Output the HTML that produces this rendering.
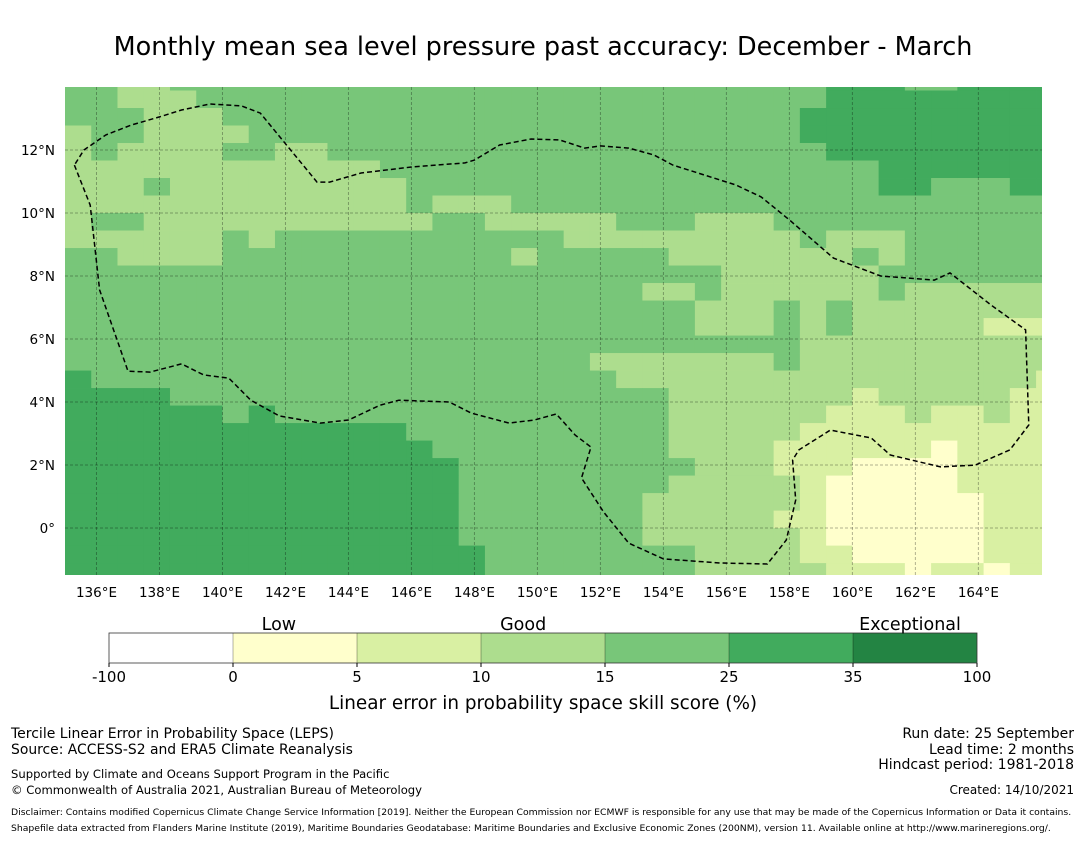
<!DOCTYPE html>
<html><head><meta charset="utf-8"><style>
body{margin:0;background:#fff;}
svg text{font-family:"DejaVu Sans","Liberation Sans",sans-serif;fill:#000;}
</style></head><body>
<svg id="chart" width="1085" height="839" viewBox="0 0 1085 839" xmlns="http://www.w3.org/2000/svg">
<text x="543" y="55" font-size="25.5" text-anchor="middle">Monthly mean sea level pressure past accuracy: December - March</text>
<defs><clipPath id="mapclip"><rect x="65" y="87" width="977" height="488"/></clipPath></defs>
<g id="cells" clip-path="url(#mapclip)"></g>
<g id="grid" clip-path="url(#mapclip)"></g>
<g id="eez" clip-path="url(#mapclip)"></g>
<g id="ticks"></g>
<g id="cbar"></g>
<text x="543" y="709" font-size="18.4" text-anchor="middle">Linear error in probability space skill score (%)</text>
<g font-size="14">
<text x="11" y="738">Tercile Linear Error in Probability Space (LEPS)</text>
<text x="11" y="754" font-size="13.9">Source: ACCESS-S2 and ERA5 Climate Reanalysis</text>
<text x="11" y="778" font-size="11.6">Supported by Climate and Oceans Support Program in the Pacific</text>
<text x="11" y="794" font-size="11.6">© Commonwealth of Australia 2021, Australian Bureau of Meteorology</text>
<text x="11" y="815" font-size="9.25">Disclaimer: Contains modified Copernicus Climate Change Service Information [2019]. Neither the European Commission nor ECMWF is responsible for any use that may be made of the Copernicus Information or Data it contains.</text>
<text x="11" y="831" font-size="9.25">Shapefile data extracted from Flanders Marine Institute (2019), Maritime Boundaries Geodatabase: Maritime Boundaries and Exclusive Economic Zones (200NM), version 11. Available online at http://www.marineregions.org/.</text>
</g>
<g font-size="14" text-anchor="end">
<text x="1074" y="738">Run date: 25 September</text>
<text x="1074" y="754">Lead time: 2 months</text>
<text x="1074" y="769">Hindcast period: 1981-2018</text>
<text x="1074" y="794" font-size="12">Created: 14/10/2021</text>
</g>
</svg>
<script>
// Grid data: rows north->south, each digit a skill class (1:0-5, 2:5-10, 3:10-15, 4:15-25, 5:25-35)
const rowCodes = [
"44334444444444444444444444444555445555",
"44333444444444444444444444444555555555",
"44433344444444444444444444445555555555",
"34433334444444444444444444445555555555",
"34333344334444444444444444444555555555",
"33333333333344444444444444444445555555",
"33343333333334444444444444444445544455",
"33333333333334333444444444444444444444",
"34433333333333443333344433344444444444",
"33333343444444444443333333334333444444",
"44333344444444444344444333333343444444",
"44444444444444444444444443333334444444",
"44444444444444444444443343333334333333",
"44444444444444444444444433343433333333",
"44444444444444444444444433343433333222",
"44444444444444444444444444443333333333",
"44444444444444444444333333343333333333",
"54444444444444444444433333333333333332",
"55554444444444444444444333333323333322",
"55555545444444444444444333333222322322",
"55555555555554444444444333332222222222",
"55555555555555444444444333322222212222",
"55555555555555544444444433322211112222",
"55555555555555544444444333332111112222",
"55555555555555544444443333332111111222",
"55555555555555544444443333322111111222",
"55555555555555544444443333332111111222",
"55555555555555554444444433332211111222",
"55555555555555554444444433333222122122"];
const classValues = [null, 2.5, 7.5, 12.5, 20, 30];
const values = rowCodes.map(r => r.split('').map(d => classValues[+d]));
const cellLon0 = 135, cellDLon = 0.8333, cellLat0 = 14.4444, cellDLat = 0.5556;
const lonTicks = [136,138,140,142,144,146,148,150,152,154,156,158,160,162,164];
const latTicks = [0,2,4,6,8,10,12];
const cbarBounds = [-100,0,5,10,15,25,35,100];
const cbarColors = ["#ffffff","#ffffcc","#d9f0a3","#addd8e","#78c679","#41ab5d","#238443"];
const cbarCategories = [["Low",1.37],["Good",3.34],["Exceptional",6.46]];
const eezLon = [135.3,135.8,136.1,137.0,137.7,138.7,139.4,140.2,140.9,141.8,143.1,144.0,145.0,145.6,147.2,147.9,149.1,149.9,150.6,151.2,151.7,151.4,152.1,152.9,154.0,155.8,157.3,157.9,158.2,158.1,158.3,159.3,160.6,161.2,162.8,163.9,165.0,165.6,165.5,164.4,163.1,162.6,160.9,159.4,158.0,157.1,156.3,155.6,154.3,153.7,152.9,152.0,151.5,150.7,149.8,148.8,148.0,147.7,146.0,144.4,143.4,143.0,141.2,140.6,139.6,138.7,138.0,137.1,136.3,135.6,135.3];
const eezLat = [11.52,10.25,7.56,4.98,4.95,5.21,4.86,4.76,4.06,3.56,3.33,3.43,3.9,4.06,4.0,3.65,3.33,3.43,3.62,2.95,2.57,1.59,0.51,-0.48,-0.98,-1.11,-1.14,-0.38,0.89,2.16,2.48,3.11,2.86,2.32,1.94,2.0,2.48,3.27,6.29,7.08,8.1,7.87,8.0,8.57,9.78,10.51,10.89,11.11,11.52,11.84,12.06,12.13,12.06,12.32,12.35,12.16,11.68,11.59,11.46,11.27,10.98,10.98,13.17,13.4,13.46,13.27,13.05,12.79,12.48,12.0,11.52];

const X0=65, X1=1042, Y0=87, Y1=575, LONMIN=135, LONMAX=166.02, LATMAX=14, LATMIN=-1.49;
const xOf = lon => X0 + (lon-LONMIN)/(LONMAX-LONMIN)*(X1-X0);
const yOf = lat => Y0 + (LATMAX-lat)/(LATMAX-LATMIN)*(Y1-Y0);
const NS="http://www.w3.org/2000/svg";
function mk(tag, attrs, parent){const e=document.createElementNS(NS,tag);for(const k in attrs)e.setAttribute(k,attrs[k]);parent.appendChild(e);return e;}
function colorFor(v){for(let i=0;i<cbarColors.length;i++){if(v<cbarBounds[i+1])return cbarColors[i];}return cbarColors[cbarColors.length-1];}

const cells=document.getElementById('cells');
values.forEach((row,r)=>row.forEach((v,c)=>{
  const lonA=cellLon0+c*cellDLon, latA=cellLat0-r*cellDLat;
  const x=xOf(lonA), y=yOf(latA);
  const el=mk('rect',{x:x,y:y,width:xOf(lonA+cellDLon)-x+0.4,height:yOf(latA-cellDLat)-y+0.4,fill:colorFor(v)},cells);
  
  
}));

const grid=document.getElementById('grid'), ticks=document.getElementById('ticks');
lonTicks.forEach(l=>{
  const x=xOf(l);
  const ln=mk('line',{x1:x,y1:Y0,x2:x,y2:Y1,stroke:'#000','stroke-opacity':0.3,'stroke-width':1,'stroke-dasharray':'3,2'},grid);
  
  
  const t=mk('text',{x:x,y:597,'font-size':13.5,'text-anchor':'middle'},ticks);
  t.textContent=l+'°E';
  
  
});
latTicks.forEach(l=>{
  const y=yOf(l);
  const ln=mk('line',{x1:X0,y1:y,x2:X1,y2:y,stroke:'#000','stroke-opacity':0.3,'stroke-width':1,'stroke-dasharray':'3,2'},grid);
  
  
  const t=mk('text',{x:55,y:y+5,'font-size':13.5,'text-anchor':'end'},ticks);
  t.textContent=l===0?'0°':l+'°N';
  
  
});

const eez=document.getElementById('eez');
const pts=eezLon.map((l,i)=>xOf(l).toFixed(1)+','+yOf(eezLat[i]).toFixed(1)).join(' ');
const pl=mk('polyline',{points:pts,fill:'none',stroke:'#000','stroke-width':1.5,'stroke-dasharray':'5,3'},eez);



const cbar=document.getElementById('cbar');
const CB0=109, CB1=977, CBY=633, CBH=30, seg=(CB1-CB0)/cbarColors.length;
cbarColors.forEach((c,i)=>{
  const r=mk('rect',{x:CB0+i*seg,y:CBY,width:seg,height:CBH,fill:c},cbar);
  
  
  if(i>0){mk('line',{x1:CB0+i*seg,y1:CBY,x2:CB0+i*seg,y2:CBY+CBH,stroke:'#000','stroke-opacity':0.2,'stroke-width':1.5},cbar);}
});
mk('rect',{x:CB0,y:CBY,width:CB1-CB0,height:CBH,fill:'none',stroke:'#333','stroke-width':0.8},cbar);
cbarBounds.forEach((b,i)=>{
  const x=CB0+i*seg;
  mk('line',{x1:x,y1:CBY+CBH,x2:x,y2:CBY+CBH+4,stroke:'#000'},cbar);
  const t=mk('text',{x:x,y:682,'font-size':15,'text-anchor':'middle'},cbar);
  t.textContent=b;
  
  
});
cbarCategories.forEach(([lab,pos])=>{
  const t=mk('text',{x:CB0+pos*seg,y:630,'font-size':17.5,'text-anchor':'middle'},cbar);
  t.textContent=lab;
  
  
});
</script>
</body></html>
